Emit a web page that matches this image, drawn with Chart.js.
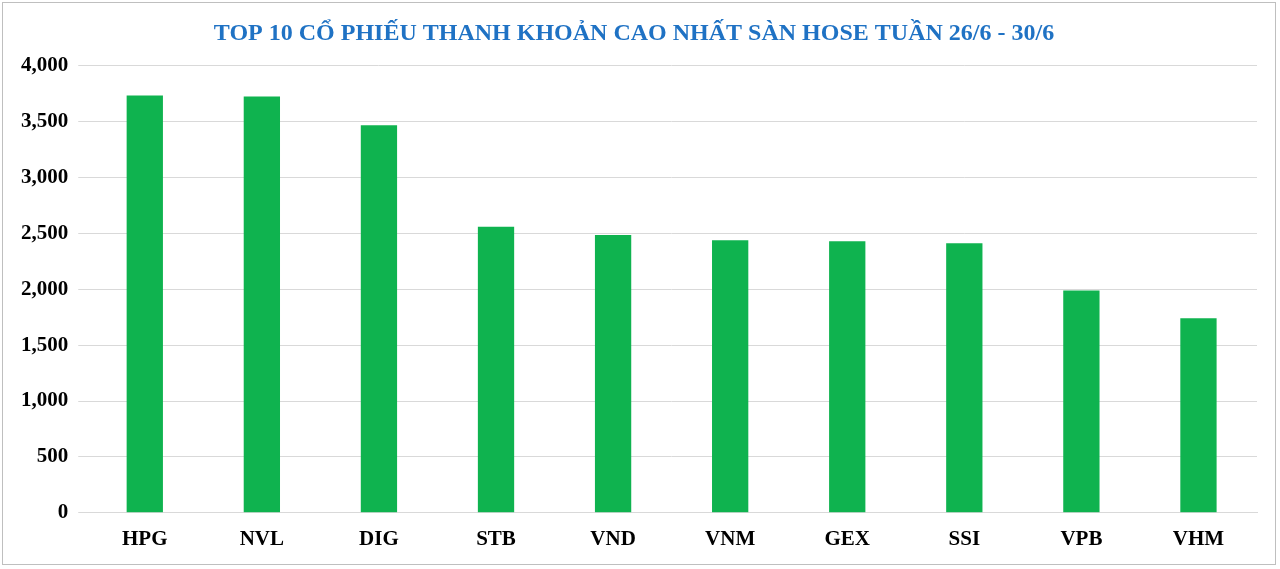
<!DOCTYPE html>
<html><head><meta charset="utf-8">
<script src="https://cdn.jsdelivr.net/npm/chart.js@4"></script>
<style>
html,body{margin:0;padding:0;background:#fff;}
#wrap{position:absolute;left:2px;top:2px;width:1274px;height:563px;border:1px solid #bfbfbf;box-sizing:border-box;}
</style></head><body>
<div id="wrap"><canvas id="c"></canvas></div>
<script>
const categories=["HPG","NVL","DIG","STB","VND","VNM","GEX","SSI","VPB","VHM"];
const values=[3735,3725,3468,2560,2485,2440,2430,2412,1990,1742];
const yTicks=[0,500,1000,1500,2000,2500,3000,3500,4000];
const ctx=document.getElementById('c');
new Chart(ctx,{type:'bar',
data:{labels:categories,datasets:[{data:values,
backgroundColor:(c)=>{const el=c.chart.getDatasetMeta(0).data[c.dataIndex];
 if(!el||!el.width) return '#0fb34f';
 const g=c.chart.ctx.createLinearGradient(el.x-el.width/2,0,el.x+el.width/2,0);
 g.addColorStop(0,'#0a6e30');g.addColorStop(0.15,'#10b450');g.addColorStop(0.5,'#12c158');g.addColorStop(0.85,'#10b450');g.addColorStop(1,'#0a6e30');return g;},
borderWidth:0,barPercentage:0.31,categoryPercentage:1}]},
options:{responsive:true,maintainAspectRatio:false,animation:false,
layout:{padding:{left:8,right:18,top:10,bottom:6}},
plugins:{legend:{display:false},tooltip:{enabled:false},
title:{display:true,text:'TOP 10 CỔ PHIẾU THANH KHOẢN CAO NHẤT SÀN HOSE TUẦN 26/6 - 30/6',color:'#1f72c4',font:{family:'Liberation Serif',size:24,weight:'bold'},padding:{top:6,bottom:18}}},
scales:{x:{grid:{display:false},border:{color:'#d9d9d9'},ticks:{color:'#000',font:{family:'Liberation Serif',size:21,weight:'bold'},padding:6}},
y:{min:0,max:4000,afterBuildTicks:(s)=>{s.ticks=yTicks.map(v=>({value:v}));},
grid:{color:'#d9d9d9'},border:{display:false},
ticks:{color:'#000',font:{family:'Liberation Serif',size:21,weight:'bold'},padding:10}}}}});
</script></body></html>
